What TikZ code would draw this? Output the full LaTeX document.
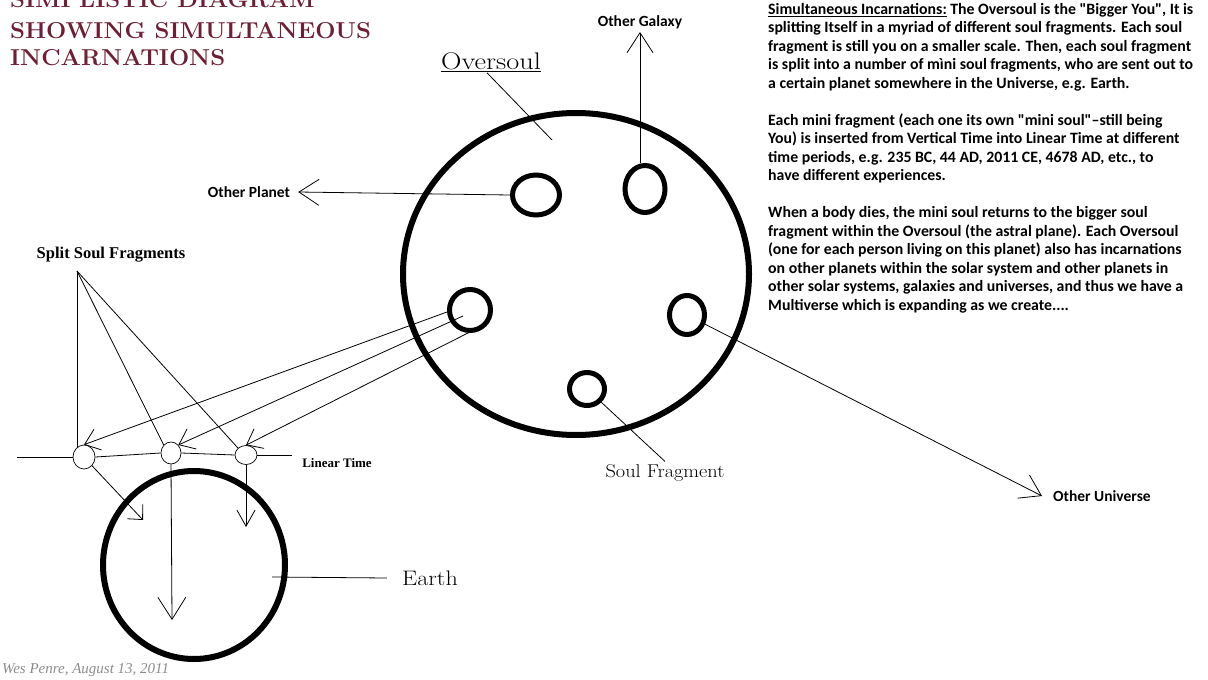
\documentclass[tikz,border=0pt]{standalone}
\usepackage{fontspec}
\usetikzlibrary{shapes.geometric,arrows.meta}
\newfontfamily\calib{Carlito}
\newfontfamily\tms{Liberation Serif}
\definecolor{titlered}{HTML}{6E1F35}
\begin{document}
\begin{tikzpicture}[x=1pt,y=-1pt,
  thinline/.style={line width=0.8pt},
  ring/.style={draw, ellipse, line width=5pt, inner sep=0pt},
  bigring/.style={draw, ellipse, line width=6pt, inner sep=0pt},
  timering/.style={draw, ellipse, line width=0.7pt, inner sep=0pt},
  bigarr/.style={thinline, -{Straight Barb[length=20pt,width=26pt]}},
  smallarr/.style={thinline, -{Straight Barb[length=14pt,width=22pt]}},
  arrA/.style={thinline, -{Straight Barb[length=11pt,width=21pt]}},
  arrB/.style={thinline, -{Straight Barb[length=22pt,width=28pt]}},
  arrC/.style={thinline, -{Straight Barb[length=16pt,width=18pt]}},
  sanslab/.style={font=\calib\bfseries\fontsize{15.5}{18}\selectfont},
  titlefont/.style={font=\bfseries\fontsize{23}{27}\selectfont, text=titlered, anchor=base west, inner sep=0pt, xscale=1.04}
]
\useasboundingbox (0,0) rectangle (1208,680);

% title
\node[titlefont] (t1) at (10,8) {SIMPLISTIC DIAGRAM};
\node[titlefont] (t2) at (10,38) {SHOWING SIMULTANEOUS};
\node[titlefont] (t3) at (10,65) {INCARNATIONS};

% right text block
\node[anchor=north west, inner sep=0pt, align=left,
      font=\calib\bfseries\fontsize{15.8}{18.5}\selectfont] (txt) at (768,3) {%
\underline{Simultaneous Incarnations:} The Oversoul is the "Bigger You", It is\\
splitting Itself in a myriad of different soul fragments. Each soul\\
fragment is still you on a smaller scale. Then, each soul fragment\\
is split into a number of mìni soul fragments, who are sent out to\\
a certain planet somewhere in the Universe, e.g. Earth.\\[18.5pt]
Each mini fragment (each one its own "mini soul"–still being\\
You) is inserted from Vertical Time into Linear Time at different\\
time periods, e.g. 235 BC, 44 AD, 2011 CE, 4678 AD, etc., to\\
have different experiences.\\[18.5pt]
When a body dies, the mini soul returns to the bigger soul\\
fragment within the Oversoul (the astral plane). Each Oversoul\\
(one for each person living on this planet) also has incarnations\\
on other planets within the solar system and other planets in\\
other solar systems, galaxies and universes, and thus we have a\\
Multiverse which is expanding as we create....};

% Oversoul
\node[bigring, minimum width=346pt, minimum height=322pt] (os) at (576,274) {};
\node[ring, minimum width=47pt, minimum height=40pt] (f1) at (536,195) {};
\node[ring, minimum width=40pt, minimum height=47pt] (f2) at (645,189) {};
\node[ring, minimum width=41pt, minimum height=41pt] (f3) at (470,310) {};
\node[ring, minimum width=35pt, minimum height=39pt] (f4) at (687,315) {};
\node[ring, minimum width=35pt, minimum height=33pt] (f5) at (587,389) {};

\node[font=\fontsize{24}{28}\selectfont, inner sep=1pt, xscale=1.18] (ovl) at (491,62) {\underline{Oversoul}};
\coordinate (ovin) at (552,140);
\draw[thinline] (ovl.south) ++(-4,0) coordinate (ovst) -- (ovin);

% other planet
\node[sanslab, inner xsep=8pt] (op) at (249,192) {Other Planet};
\draw[bigarr] (f1.west) -- (op.east);

% other galaxy
\node[sanslab, anchor=south, inner sep=3pt] (og) at (640,32) {Other Galaxy};
\draw[bigarr] (og.south |- f2.north) -- (og.south);

% other universe
\node[sanslab, anchor=west, inner xsep=11pt] (ou) at (1042,496) {Other Universe};
\draw[bigarr] (f4) -- (ou.west);

% soul fragment
\node[font=\fontsize{18.5}{22}\selectfont, inner sep=3pt, xscale=1.1] (sf) at (665,473) {Soul Fragment};
\draw[thinline] (f5) -- (sf.north);

% Earth
\node[bigring, minimum width=182pt, minimum height=188pt] (earth) at (194,565) {};
\node[font=\fontsize{21}{25}\selectfont, inner xsep=13pt, xscale=1.15] (el) at (430,578) {Earth};
\coordinate (eline) at (272,577);
\draw[thinline] (eline) -- (el.west);

% linear time
\node[timering, minimum width=22pt, minimum height=24pt] (tA) at (84,457) {};
\node[timering, minimum width=20pt, minimum height=22pt] (tB) at (171,453) {};
\node[timering, minimum width=22pt, minimum height=19pt] (tC) at (246,455) {};
\coordinate (lt0) at (17,457);
\coordinate (lt1) at (292,455);
\draw[thinline] (lt0) -- (tA.west);
\draw[thinline] (tA.east) -- (tB.west);
\draw[thinline] (tB.east) -- (tC.west);
\draw[thinline] (tC.east) -- (lt1);
\node[font=\tms\bfseries\fontsize{13}{15}\selectfont, inner sep=0pt] (ltl) at (337,463) {Linear Time};

% split soul fragments
\node[font=\tms\bfseries\fontsize{16.5}{19}\selectfont, inner sep=0pt] (ssf) at (111,255) {Split Soul Fragments};
\coordinate (apx) at (77,271);
\draw[thinline] (apx) -- (apx |- tA.north west);
\draw[thinline] (apx) -- (tB.north west);
\draw[thinline] (apx) -- (tC.north west);

% from soul fragment to linear time
\coordinate (s1) at (447,312);
\coordinate (s2) at (463,316);
\coordinate (s3) at (470,332);
\draw[smallarr] (s1) -- (tA.north);
\draw[smallarr] (s2) -- (tB.north east);
\draw[smallarr] (s3) -- (tC.north);

% into Earth
\coordinate (ea) at (143,520);
\coordinate (eb) at (172,620);
\coordinate (ec) at (246,527);
\draw[arrA] (tA.south east) -- (ea);
\draw[arrB] (tB.south) -- (eb);
\draw[arrC] (tC.south) -- (ec);

% footer
\node[anchor=west, font=\tms\itshape\fontsize{15}{17}\selectfont, text=black!45, inner sep=0pt] (ft) at (2,670) {Wes Penre, August 13, 2011};
\end{tikzpicture}
\end{document}
